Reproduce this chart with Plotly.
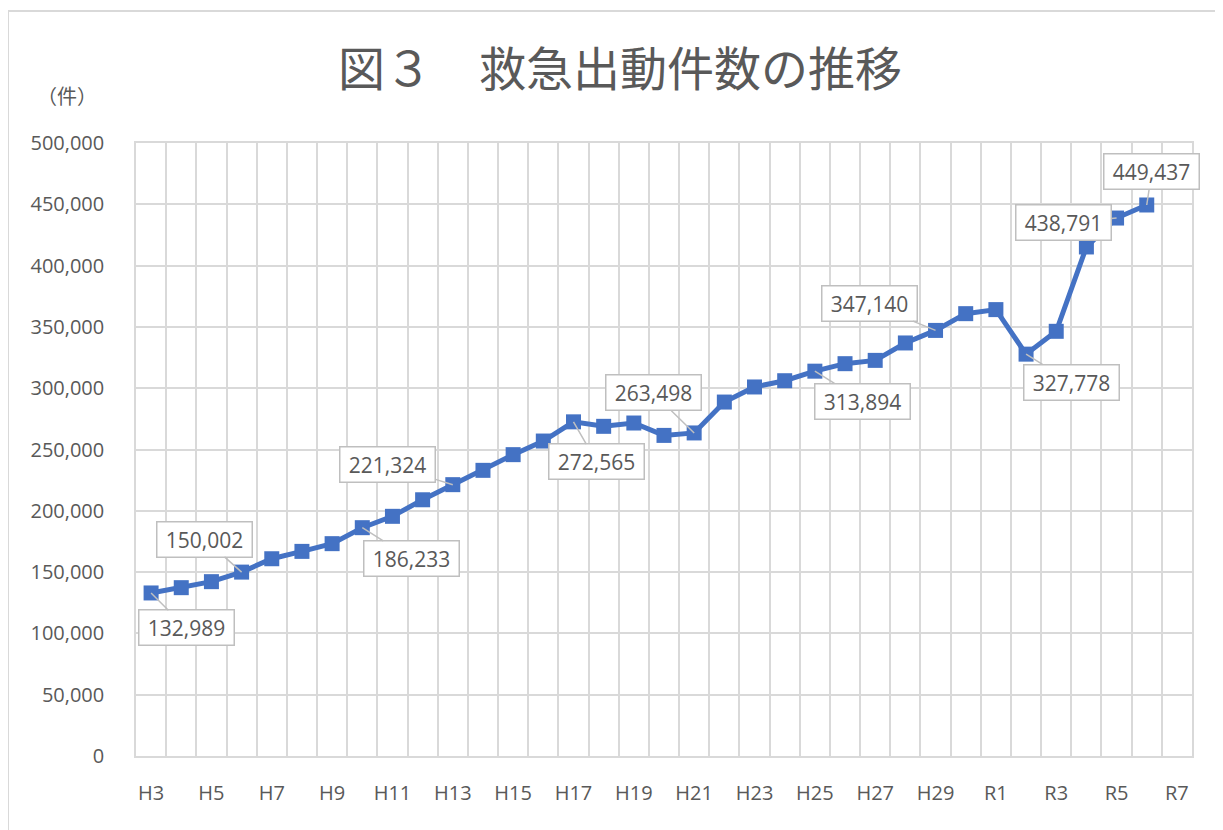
import plotly.graph_objects as go

categories = ["H3", "H4", "H5", "H6", "H7", "H8", "H9", "H10", "H11", "H12",
              "H13", "H14", "H15", "H16", "H17", "H18", "H19", "H20", "H21", "H22",
              "H23", "H24", "H25", "H26", "H27", "H28", "H29", "H30",
              "R1", "R2", "R3", "R4", "R5", "R6", "R7"]
values = [132989, 137300, 142200, 150002, 160900, 166900, 173200, 186233, 195500, 209000,
          221324, 233000, 245800, 256900, 272565, 268900, 271600, 261500, 263498, 288700,
          301000, 306100, 313894, 320000, 322700, 336900, 347140, 360800,
          364100, 327778, 346400, 415200, 438791, 449437, None]
tick_labels = [c if i % 2 == 0 else "" for i, c in enumerate(categories)]

# labelled points: category -> (dx, dy) offset of the callout box in pixels
labelled = ["H3", "H6", "H10", "H13", "H17", "H21", "H25", "H29", "R2", "R5", "R6"]
label_offsets = [(35, 35), (-37, -33), (49, 31), (-65, -20), (23, 40), (-41, -40),
                 (48, 30), (-66, -27), (45, 28), (-53, 4), (5, -33)]

LINE = "#4472C4"
TXT = "#595959"
GRID = "#d9d9d9"

# the page body has an 8px margin; compensate so the plot area lands where intended
OFF = 8
L, T, PW, PH = 136 - OFF, 143 - OFF, 1056, 613

fig = go.Figure()
fig.add_trace(go.Scatter(
    x=categories, y=values, mode="lines+markers",
    line=dict(color=LINE, width=5),
    marker=dict(symbol="square", size=15, color=LINE),
    connectgaps=False, hoverinfo="x+y", showlegend=False,
))

annotations = []
for cat, (dx, dy) in zip(labelled, label_offsets):
    v = values[categories.index(cat)]
    annotations.append(dict(
        x=cat, y=v, xref="x", yref="y", text=f"{v:,}",
        showarrow=True, ax=dx, ay=dy, arrowhead=0, arrowwidth=1.5,
        arrowcolor="#bfbfbf", standoff=0,
        bgcolor="white", bordercolor="#bfbfbf", borderwidth=1.5, borderpad=5,
        width=84, height=24,
        font=dict(family="Open Sans", size=21, color=TXT),
    ))

annotations.append(dict(
    text="（件）", x=(67 - 136) / PW, y=1 + (143 - 95) / PH,
    xref="paper", yref="paper", showarrow=False, xanchor="center", yanchor="middle",
    font=dict(family="Noto Sans CJK JP", size=20, color=TXT),
))

fig.update_layout(
    width=1223, height=830,
    margin=dict(l=L, r=1223 - L - PW, t=T, b=830 - T - PH),
    paper_bgcolor="white", plot_bgcolor="white",
    title=dict(text="図３　救急出動件数の推移", x=(620 - OFF) / 1223, y=1 - (70 - OFF) / 830,
               xanchor="center", yanchor="middle",
               font=dict(family="Noto Sans CJK JP", size=47, color=TXT)),
    annotations=annotations,
    xaxis=dict(
        type="category", categoryorder="array", categoryarray=categories,
        range=[-0.5, len(categories) - 0.5], automargin=False,
        tickmode="array", tickvals=categories, ticktext=tick_labels, tickangle=0,
        tickson="boundaries", ticks="", showgrid=True, gridcolor=GRID, gridwidth=1.5,
        showline=True, linecolor=GRID, linewidth=1.5, mirror=True,
        tickfont=dict(family="Open Sans", size=20, color=TXT),
        ticklabelstandoff=18,
    ),
    yaxis=dict(
        range=[0, 500000], dtick=50000, tickformat=",", automargin=False,
        showgrid=True, gridcolor=GRID, gridwidth=1.5, zeroline=False,
        showline=True, linecolor=GRID, linewidth=1.5, mirror=True,
        tickfont=dict(family="Open Sans", size=20, color=TXT),
        ticks="", ticklabelstandoff=26,
    ),
    shapes=[dict(type="rect", xref="paper", yref="paper",
                 x0=(8 - 136) / PW, x1=(1240 - 136) / PW,
                 y0=-(850 - 756) / PH, y1=1 + (143 - 11) / PH,
                 line=dict(color=GRID, width=2), fillcolor="rgba(0,0,0,0)", layer="below")],
)

fig.write_html("out.html")
